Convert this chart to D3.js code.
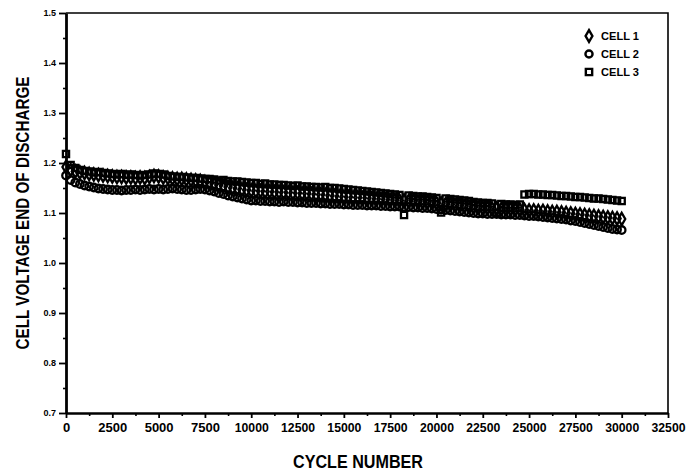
<!DOCTYPE html>
<html>
<head>
<meta charset="utf-8">
<script src="https://cdnjs.cloudflare.com/ajax/libs/d3/7.8.5/d3.min.js"></script>
<style>
  body { margin: 0; background: #fff; }
  svg text { font-family: "Liberation Sans Narrow", "Arial Narrow", "Liberation Sans", sans-serif; font-weight: bold; fill: #000; }
</style>
</head>
<body>
<svg width="691" height="473"></svg>
<script>

// cycle numbers the cells were sampled at
var cycles = [
  0,250,500,750,1000,1250,1500,1750,2000,2250,
  2500,2750,3000,3250,3500,3750,4000,4250,4500,4750,
  5000,5250,5500,5750,6000,6250,6500,6750,7000,7250,
  7500,7750,8000,8250,8500,8750,9000,9250,9500,9750,
  10000,10250,10500,10750,11000,11250,11500,11750,12000,12250,
  12500,12750,13000,13250,13500,13750,14000,14250,14500,14750,
  15000,15250,15500,15750,16000,16250,16500,16750,17000,17250,
  17500,17750,18000,18250,18500,18750,19000,19250,19500,19750,
  20000,20250,20500,20750,21000,21250,21500,21750,22000,22250,
  22500,22750,23000,23250,23500,23750,24000,24250,24500,24750,
  25000,25250,25500,25750,26000,26250,26500,26750,27000,27250,
  27500,27750,28000,28250,28500,28750,29000,29250,29500,29750,
  30000
];

var cell1 = [
  1.192,1.186,1.183,1.181,1.180,1.178,1.177,1.176,1.175,1.174,
  1.173,1.172,1.172,1.171,1.171,1.170,1.171,1.170,1.172,1.174,
  1.173,1.171,1.170,1.169,1.168,1.168,1.167,1.166,1.165,1.164,
  1.162,1.160,1.158,1.156,1.154,1.152,1.150,1.149,1.147,1.146,
  1.145,1.144,1.144,1.143,1.143,1.142,1.142,1.141,1.141,1.140,
  1.140,1.139,1.139,1.138,1.137,1.137,1.136,1.135,1.134,1.133,
  1.132,1.132,1.131,1.131,1.130,1.130,1.129,1.128,1.128,1.127,
  1.126,1.126,1.125,1.125,1.124,1.124,1.123,1.122,1.122,1.121,
  1.120,1.119,1.118,1.117,1.116,1.115,1.114,1.113,1.112,1.111,
  1.110,1.110,1.109,1.109,1.108,1.108,1.108,1.107,1.107,1.106,
  1.105,1.105,1.104,1.104,1.103,1.102,1.102,1.101,1.100,1.099,
  1.098,1.097,1.096,1.095,1.094,1.093,1.092,1.091,1.090,1.089,
  1.088
];

var cell2 = [
  1.175,1.166,1.161,1.158,1.155,1.153,1.151,1.149,1.148,1.147,
  1.146,1.146,1.145,1.146,1.146,1.147,1.146,1.147,1.148,1.147,
  1.148,1.147,1.148,1.149,1.148,1.147,1.146,1.146,1.147,1.148,
  1.147,1.145,1.143,1.140,1.138,1.135,1.133,1.131,1.129,1.127,
  1.125,1.125,1.124,1.124,1.123,1.123,1.122,1.123,1.122,1.122,
  1.121,1.121,1.120,1.120,1.120,1.119,1.119,1.118,1.118,1.118,
  1.117,1.117,1.116,1.116,1.116,1.115,1.115,1.115,1.114,1.114,
  1.113,1.113,1.113,1.112,1.112,1.111,1.111,1.110,1.110,1.109,
  1.108,1.107,1.106,1.105,1.104,1.103,1.102,1.101,1.100,1.099,
  1.099,1.098,1.098,1.098,1.097,1.097,1.097,1.096,1.096,1.095,
  1.094,1.094,1.093,1.092,1.091,1.090,1.089,1.088,1.087,1.085,
  1.084,1.082,1.080,1.078,1.076,1.074,1.072,1.070,1.068,1.067,
  1.066
];

var cell3 = [
  1.218,1.196,1.190,1.186,1.184,1.183,1.181,1.182,1.180,1.179,
  1.178,1.177,1.178,1.176,1.177,1.176,1.175,1.176,1.177,1.179,
  1.178,1.177,1.174,1.173,1.172,1.172,1.171,1.170,1.170,1.169,
  1.168,1.168,1.167,1.165,1.166,1.164,1.163,1.163,1.162,1.161,
  1.160,1.160,1.158,1.159,1.157,1.157,1.156,1.156,1.155,1.154,
  1.155,1.153,1.153,1.152,1.152,1.151,1.152,1.150,1.150,1.149,
  1.148,1.147,1.146,1.145,1.144,1.143,1.142,1.141,1.140,1.139,
  1.138,1.137,1.136,1.096,1.135,1.134,1.133,1.133,1.132,1.131,
  1.130,1.101,1.129,1.128,1.127,1.126,1.125,1.124,1.122,1.121,
  1.120,1.120,1.119,1.100,1.118,1.117,1.117,1.116,1.117,1.137,
  1.138,1.138,1.137,1.137,1.136,1.136,1.135,1.134,1.134,1.133,
  1.132,1.132,1.131,1.130,1.129,1.129,1.128,1.127,1.126,1.125,
  1.124
];

var seriesNames = ['CELL 1', 'CELL 2', 'CELL 3'];
var seriesShapes = [d3.symbolDiamond, d3.symbolCircle, d3.symbolSquare];
var seriesValues = [cell1, cell2, cell3];

var xTicks = [0,2500,5000,7500,10000,12500,15000,17500,20000,22500,25000,27500,30000,32500];
var yTicks = [0.7,0.8,0.9,1.0,1.1,1.2,1.3,1.4,1.5];

var svg = d3.select('svg');

var x = d3.scaleLinear().domain([0, 32500]).range([66, 668]);
var y = d3.scaleLinear().domain([0.7, 1.5]).range([413, 13]);

// frame top + right (thin)
svg.append('path')
   .attr('d', 'M' + x(0) + ',' + y(1.5) + 'H' + x(32500) + 'V' + y(0.7))
   .attr('fill', 'none')
   .attr('stroke', '#000')
   .attr('stroke-width', 1.6);

// minor ticks
svg.append('g')
   .attr('transform', 'translate(0,' + y(0.7) + ')')
   .call(d3.axisBottom(x).tickValues(xTicks.slice(0, -1).map(function(d){ return d + 1250; }))
         .tickSize(3).tickFormat(''))
   .call(function(g){ g.select('.domain').remove(); })
   .selectAll('line').attr('stroke-width', 1.6);

svg.append('g')
   .attr('transform', 'translate(' + x(0) + ',0)')
   .call(d3.axisLeft(y).tickValues(yTicks.slice(0, -1).map(function(d){ return d + 0.05; }))
         .tickSize(3).tickFormat(''))
   .call(function(g){ g.select('.domain').remove(); })
   .selectAll('line').attr('stroke-width', 1.6);

// major axes
var xAxis = svg.append('g')
   .attr('transform', 'translate(0,' + y(0.7) + ')')
   .call(d3.axisBottom(x).tickValues(xTicks).tickSize(5).tickSizeOuter(0).tickPadding(5).tickFormat(d3.format('d')));

xAxis.select('.domain').attr('stroke-width', 2.6);
xAxis.selectAll('line').attr('stroke-width', 1.8);
xAxis.selectAll('text').style('font-size', '13px').attr('textLength', 34).attr('lengthAdjust', 'spacingAndGlyphs')
   .filter(function(d){ return d < 10000; }).attr('textLength', null);

var yAxis = svg.append('g')
   .attr('transform', 'translate(' + x(0) + ',0)')
   .call(d3.axisLeft(y).tickValues(yTicks).tickSize(7).tickSizeOuter(0).tickPadding(3).tickFormat(d3.format('.1f')));

yAxis.select('.domain').attr('stroke-width', 2.8);
yAxis.selectAll('line').attr('stroke-width', 1.8);
yAxis.selectAll('text').style('font-size', '9px');

// data markers
seriesValues.forEach(function(vals, i) {
   svg.append('g')
      .selectAll('path')
      .data(vals)
      .enter()
      .append('path')
      .attr('d', d3.symbol().type(seriesShapes[i]).size(i == 2 ? 38 : 44))
      .attr('transform', function(d, j){ return 'translate(' + x(cycles[j]) + ',' + y(d) + ')'; })
      .attr('fill', 'none')
      .attr('stroke', '#000')
      .attr('stroke-width', 2.3);
});

// legend
var legend = svg.append('g');
seriesNames.forEach(function(name, i) {
   var ly = 36 + i * 18;
   legend.append('path')
      .attr('d', d3.symbol().type(seriesShapes[i]).size(40))
      .attr('transform', 'translate(589,' + ly + ')')
      .attr('fill', 'none')
      .attr('stroke', '#000')
      .attr('stroke-width', 2.4);
   legend.append('text')
      .attr('x', 601)
      .attr('y', ly + 3.5)
      .attr('textLength', 38)
      .attr('lengthAdjust', 'spacingAndGlyphs')
      .style('font-size', '10px')
      .text(name);
});

// axis titles
svg.append('text')
   .attr('x', 358)
   .attr('y', 468)
   .attr('text-anchor', 'middle')
   .attr('textLength', 130)
   .attr('lengthAdjust', 'spacingAndGlyphs')
   .style('font-size', '18px')
   .text('CYCLE NUMBER');

svg.append('text')
   .attr('transform', 'translate(29,213) rotate(-90)')
   .attr('text-anchor', 'middle')
   .attr('textLength', 273)
   .attr('lengthAdjust', 'spacingAndGlyphs')
   .style('font-size', '19px')
   .text('CELL VOLTAGE END OF DISCHARGE');

</script>
</body>
</html>
